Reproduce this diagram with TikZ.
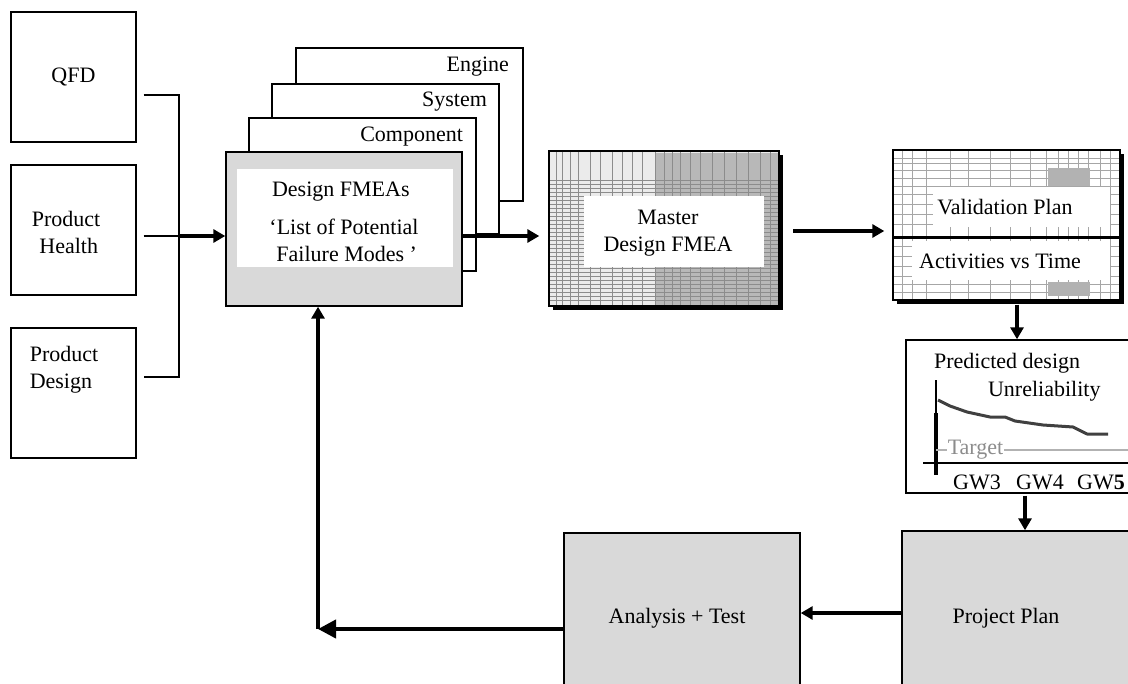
\documentclass[tikz,border=0pt]{standalone}
\usepackage{fontspec}
\setmainfont{Liberation Serif}
\usetikzlibrary{arrows.meta,calc}
\tikzset{
  every node/.style={font=\fontsize{11}{13.5}\selectfont,align=center},
  plainbox/.style={draw,line width=0.7pt,inner sep=0pt},
  shadebox/.style={plainbox,fill=black!15},
  whitebox/.style={fill=white,inner sep=0pt},
  flow/.style={line width=1.6pt,-{Triangle[length=6pt,width=6.5pt]}},
  loopflow/.style={line width=2pt,-{Triangle[length=9pt,width=9pt]}},
  feed/.style={line width=0.6pt},
  sheetline/.style={black!45,line width=0.25pt},
}
\begin{document}
\begin{tikzpicture}[x=0.5pt,y=-0.5pt]
\useasboundingbox (0,0) rectangle (1128,684);
\clip (0,0) rectangle (1128,684);

% inputs
\node[plainbox,minimum width=62.5pt,minimum height=65pt] (qfd) at (73.5,77) {QFD};
\node[plainbox,minimum width=62.5pt,minimum height=65pt] (health) at (73.5,230) {};
\node at (66,232) {Product\\ \ Health};
\node[plainbox,minimum width=62.5pt,minimum height=65pt] (pdesign) at (73.5,393) {};
\node[align=left] at (64,370) {Product\\ Design};

% stack of design fmeas
\node[plainbox,fill=white,minimum width=113.5pt,minimum height=76.5pt] (engine) at (409.5,124.5) {};
\node[anchor=east] at (516,67) {Engine};
\node[plainbox,fill=white,minimum width=113.5pt,minimum height=75pt] (system) at (385.5,159) {};
\node[anchor=east] at (494,102) {System};
\node[plainbox,fill=white,minimum width=113.5pt,minimum height=76.5pt] (component) at (362.5,194.5) {};
\node[anchor=east] at (470,137) {Component};
\node[shadebox,minimum width=118pt,minimum height=77pt] (dfmea) at (344,229) {};
\node[whitebox,minimum width=108pt,minimum height=49pt] (dfmeatext) at (345,218) {};
\node[anchor=west] at (265,192) {Design FMEAs};
\node at (344,240) {`List of Potential\\ \ Failure Modes ’};

% master design fmea
\fill (553,155) rectangle (783,310);
\node[plainbox,fill=black!8,minimum width=115pt,minimum height=77.5pt] (master) at (664,228.5) {};
\fill[black!28] (655,153) rectangle (778,305);
\foreach \y in {180,184,...,302} \draw[sheetline] (550,\y) -- (778,\y);
\foreach \x in {556,562,570,578,590,600,612,622,632,642,655,664,672,680,690,700,712,724,736,748,760,770}
  \draw[sheetline] (\x,152) -- (\x,305);
\node[whitebox,minimum width=90pt,minimum height=35.5pt] (mastertext) at (674,231.5) {};
\node at (668,233) {Master\\Design FMEA};

% validation plan
\fill (897,154) rectangle (1124,304);
\node[plainbox,fill=white,minimum width=113.5pt,minimum height=75pt] (valid) at (1006.5,225) {};
\foreach \y in {158,163,170,178,186,194,204,214,224,246,256,266,276,284,292}
  \draw[black!35,line width=0.2pt] (894,\y) -- (1119,\y);
\foreach \x in {902,912,926,950,968,990,1010,1030,1046,1058,1068,1078,1088,1100,1110}
  \draw[black!35,line width=0.2pt] (\x,151) -- (\x,299);
\fill[black!30] (1048,168) rectangle (1090,186);
\fill[black!30] (1048,282) rectangle (1090,296);
\draw[line width=1.5pt] (894,237) -- (1119,237);
\node[whitebox,minimum width=88.5pt,minimum height=20pt] at (1021.5,207) {};
\node[whitebox,minimum width=99pt,minimum height=19.5pt] at (1011,260.5) {};
\node at (1005,207) {Validation Plan};
\node at (1000,261) {Activities vs Time};

% predicted unreliability
\node[plainbox,minimum width=117pt,minimum height=76.5pt] (pred) at (1023,416.5) {};
\node[anchor=west] at (927,363) {Predicted design};
\node[anchor=west] at (981,391) {Unreliability};
\draw[line width=0.6pt] (936,380) -- (936,475);
\draw[line width=1.6pt] (936,413) -- (936,475);
\draw[line width=0.7pt] (923,463) -- (1128,463);
\draw[black!75,line width=1.5pt,line join=round]
  (938,400) -- (950,406) -- (967,412) -- (990,417) -- (1005,417) -- (1015,421)
  -- (1043,425) -- (1073,427) -- (1087,434) -- (1108,434);
\draw[black!30,line width=1.3pt] (936,450) -- (947,450);
\draw[black!30,line width=1.3pt] (1004,450) -- (1128,450);
\node[text=black!45] at (975.5,450) {Target};
\node at (977,482) {GW3};
\node at (1040,482) {GW4};
\node at (1101,482) {GW\textbf{5}};

% plans
\node[shadebox,minimum width=119pt,minimum height=94.5pt] (project) at (1021,625.5) {};
\node at (1006,618) {Project Plan};
\node[shadebox,minimum width=118pt,minimum height=93.5pt] (analysis) at (682,626.5) {};
\node at (677,618) {Analysis + Test};

% connectors
\coordinate (ja) at (179,95);
\coordinate (jb) at (179,236);
\coordinate (jc) at (179,377);
\draw[feed] ($(qfd.east |- ja)+(7,0)$) -- (ja) -- (jc) -- ($(pdesign.east |- jc)+(7,0)$);
\draw[feed] ($(health.east |- jb)+(7,0)$) -- (jb);
\draw[flow] (jb) -- (jb -| dfmea.west);
\draw[flow] (dfmea.east |- jb) -- ($(master.west |- jb)+(-9,0)$);
\coordinate (mv) at (793,231);
\draw[flow] (mv) -- ($(valid.west |- mv)+(-8,0)$);
\draw[flow] ($(valid.south)+(10.5,4)$) -- ($(pred.north)+(-6,0)$);
\draw[flow] ($(pred.south)+(2,2)$) -- ($(project.north)+(4,0)$);
\coordinate (pa) at (850,613);
\draw[flow] (pa -| project.west) -- (pa -| analysis.east);
\coordinate (lp) at (318,629);
\draw[loopflow] (analysis.west |- lp) -- (lp);
\draw[flow,line width=2pt] (lp) -- (lp |- dfmea.south);
\end{tikzpicture}
\end{document}
